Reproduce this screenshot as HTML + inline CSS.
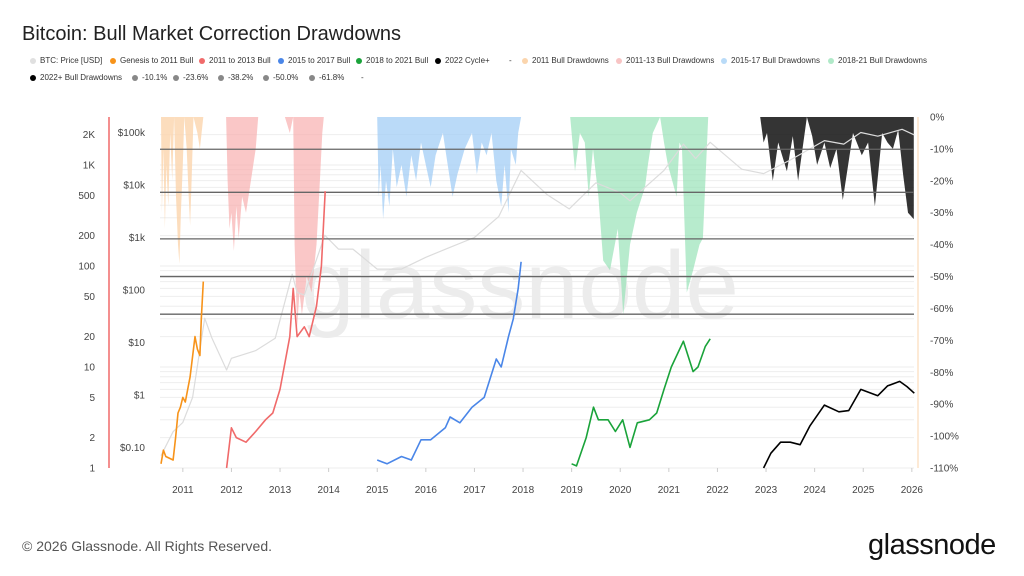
<!DOCTYPE html>
<html><head><meta charset="utf-8"><style>
body{margin:0;background:#fff;font-family:"Liberation Sans",sans-serif;}
#wrap{position:relative;width:1024px;height:576px;overflow:hidden;}
.t{position:absolute;white-space:nowrap;}
.lg{position:absolute;font-size:8px;color:#333;white-space:nowrap;}
.dot{display:inline-block;width:6px;height:6px;border-radius:50%;margin-right:4px;vertical-align:-0.5px;}
</style></head><body><div id="wrap">
<div class="t" style="left:22px;top:23px;font-size:20px;color:#222;">Bitcoin: Bull Market Correction Drawdowns</div>
<div id="legend"></div>
<svg id="svg" width="1024" height="576" style="position:absolute;left:0;top:0"></svg>
<div class="t" style="left:22px;top:538px;font-size:14px;color:#555;">© 2026 Glassnode. All Rights Reserved.</div>
<div class="t" style="left:868px;top:529px;font-size:29px;color:#111;letter-spacing:-0.5px;">glassnode</div>
</div>
<script>
const years=[2011,2012,2013,2014,2015,2016,2017,2018,2019,2020,2021,2022,2023,2024,2025,2026];
const multTicks=[1,2,5,10,20,50,100,200,500,1000,2000];
const multLabels=["1","2","5","10","20","50","100","200","500","1K","2K"];
const priceTicks=[0.1,1,10,100,1000,10000,100000];
const priceLabels=["$0.10","$1","$10","$100","$1k","$10k","$100k"];
const pctTicks=[0,-10,-20,-30,-40,-50,-60,-70,-80,-90,-100,-110];
const levels=[-10.1,-23.6,-38.2,-50.0,-61.8];
const btcT=[2010.55,2010.8,2011.0,2011.2,2011.45,2011.6,2011.9,2012.0,2012.5,2012.9,2013.25,2013.35,2013.5,2013.92,2014.2,2014.5,2015.0,2015.5,2016.0,2016.5,2017.0,2017.5,2017.96,2018.5,2018.95,2019.5,2019.99,2020.2,2020.9,2021.3,2021.55,2021.85,2022.5,2022.95,2023.5,2024.2,2024.6,2024.95,2025.3,2025.8,2026.05];
const btcP=[0.07,0.2,0.3,0.9,29,12,3,5,7,12,200,90,80,1100,600,600,250,250,420,650,1000,2500,19000,6500,3500,11000,7200,5000,19000,60000,32000,65000,20000,16500,30000,70000,60000,100000,85000,115000,90000];
const c1T=[2010.55,2010.6,2010.65,2010.8,2010.85,2010.9,2010.95,2011.0,2011.05,2011.15,2011.25,2011.3,2011.35,2011.38,2011.42];
const c1V=[1.1,1.5,1.3,1.2,2,3.5,4,5,4.5,8,20,15,13,30,70];
const c2T=[2011.9,2012.0,2012.1,2012.3,2012.5,2012.7,2012.85,2013.0,2013.2,2013.27,2013.35,2013.5,2013.6,2013.75,2013.85,2013.93];
const c2V=[1,2.5,2,1.8,2.3,3,3.5,6,20,60,20,25,20,40,100,550];
const c3T=[2015.0,2015.2,2015.5,2015.7,2015.9,2016.1,2016.4,2016.5,2016.7,2016.95,2017.2,2017.45,2017.55,2017.7,2017.8,2017.9,2017.96];
const c3V=[1.2,1.1,1.3,1.2,1.9,1.9,2.5,3.2,2.8,4,5,12,10,20,30,60,110];
const c4T=[2019.0,2019.1,2019.3,2019.45,2019.55,2019.75,2019.9,2020.05,2020.2,2020.35,2020.6,2020.75,2020.9,2021.05,2021.3,2021.5,2021.6,2021.75,2021.85];
const c4V=[1.1,1.05,2,4,3,3,2.3,3,1.6,2.8,3,3.5,6,10,18,9,10,16,19];
const c5T=[2022.95,2023.1,2023.3,2023.5,2023.7,2023.9,2024.2,2024.5,2024.7,2024.95,2025.3,2025.5,2025.75,2025.9,2026.05];
const c5V=[1,1.4,1.8,1.8,1.7,2.6,4.2,3.6,3.7,6,5.2,6.5,7.2,6.4,5.5];
const d1T=[2010.55,2010.57,2010.6,2010.63,2010.66,2010.7,2010.74,2010.78,2010.82,2010.86,2010.9,2010.93,2010.96,2011.0,2011.03,2011.08,2011.12,2011.15,2011.18,2011.22,2011.3,2011.35,2011.42];
const d1V=[0,-30,-10,-35,-15,-28,-5,-20,0,-25,-40,-46,-30,-15,0,-10,-25,-34,-20,0,-5,-10,0];
const d2T=[2011.89,2011.92,2011.96,2012.0,2012.05,2012.1,2012.15,2012.22,2012.3,2012.4,2012.5,2012.55,2013.1,2013.2,2013.27,2013.3,2013.35,2013.4,2013.45,2013.55,2013.65,2013.75,2013.82,2013.87,2013.9];
const d2V=[0,-20,-35,-30,-42,-28,-38,-25,-30,-20,-10,0,0,-5,0,-40,-66,-55,-62,-50,-55,-40,-20,-5,0];
const d3T=[2015.0,2015.03,2015.07,2015.12,2015.18,2015.25,2015.32,2015.4,2015.5,2015.6,2015.7,2015.8,2015.9,2016.0,2016.1,2016.2,2016.35,2016.45,2016.55,2016.65,2016.8,2016.95,2017.05,2017.15,2017.25,2017.35,2017.45,2017.55,2017.62,2017.7,2017.75,2017.85,2017.9,2017.96];
const d3V=[0,-25,-15,-32,-20,-28,-10,-22,-15,-25,-12,-20,-8,-15,-22,-12,-5,-15,-25,-18,-10,-5,-18,-8,-12,-5,-20,-28,-15,-30,-10,-15,-5,0];
const d4T=[2018.97,2019.07,2019.17,2019.27,2019.35,2019.44,2019.55,2019.65,2019.79,2019.95,2020.06,2020.2,2020.34,2020.51,2020.57,2020.67,2020.82,2020.9,2020.98,2021.16,2021.22,2021.27,2021.37,2021.5,2021.63,2021.7,2021.81];
const d4V=[0,-17,-5,-8,-25,-10,-25,-45,-48,-35,-62,-40,-30,-22,-15,-5,0,-8,-15,-25,-8,-10,-55,-48,-40,-38,0];
const d5T=[2022.88,2022.95,2023.02,2023.14,2023.25,2023.43,2023.55,2023.66,2023.84,2023.95,2024.05,2024.2,2024.32,2024.45,2024.58,2024.79,2024.97,2025.1,2025.24,2025.39,2025.5,2025.61,2025.72,2025.82,2025.92,2026.04];
const d5V=[0,-8,-5,-20,-8,-17,-6,-20,0,-6,-15,-8,-16,-10,-26,-5,-12,-8,-28,-5,-8,-10,-4,-18,-30,-32];

const X0=160,X1=914,YT=117,YB=468;
const xs=t=>X0+(t-2010.53)*48.6;
const yM=m=>YB-Math.log10(m)*101;
const yP=p=>395-Math.log10(p)*52.5;
const yD=d=>YT-d*(YB-YT)/110;
const NS="http://www.w3.org/2000/svg",svg=document.getElementById('svg');
function mk(tag,attrs,parent){const e=document.createElementNS(NS,tag);for(const k in attrs)e.setAttribute(k,attrs[k]);(parent||svg).appendChild(e);return e;}
function txt(x,y,s,anchor,size,fill){const e=mk('text',{x:x,y:y,'text-anchor':anchor,'font-size':size,fill:fill,'font-family':'Liberation Sans, sans-serif'});e.textContent=s;return e;}
for(let dec=0;dec<4;dec++)for(let k=1;k<10;k++){const m=Math.pow(10,dec)*k;if(m>2600)continue;const y=yM(m);
const g=mk('line',{x1:X0,x2:X1,y1:y,y2:y,stroke:'#eeeeee','stroke-width':1});

}
const wm=txt(520,318,'glassnode','middle',96,'#ececec');


function area(T,V,color,op,name){let d='M'+xs(T[0])+','+YT;T.forEach((t,i)=>d+=' L'+xs(t).toFixed(1)+','+yD(V[i]).toFixed(1));d+=' L'+xs(T[T.length-1])+','+YT+' Z';
const p=mk('path',{d:d,fill:color,'fill-opacity':op});

}
area(d1T,d1V,'#fbd5ad',0.8,'drawdown-2011');
area(d2T,d2V,'#f8a9a9',0.65,'drawdown-2011-13');
area(d3T,d3V,'#9ccbf5',0.7,'drawdown-2015-17');
area(d4T,d4V,'#98e2b8',0.7,'drawdown-2018-21');
area(d5T,d5V,'#111',0.85,'drawdown-2022');
function line(T,V,yf,color,w,name){const pts=T.map((t,i)=>xs(t).toFixed(1)+','+yf(V[i]).toFixed(1)).join(' ');
const l=mk('polyline',{points:pts,fill:'none',stroke:color,'stroke-width':w,'stroke-linejoin':'round'});

}
line(btcT,btcP,yP,'#dcdcdc',1.2,'btc-price-line');
levels.forEach(v=>{const y=yD(v);const l=mk('line',{x1:X0,x2:X1,y1:y,y2:y,stroke:'#666','stroke-width':1.3});

});
line(c1T,c1V,yM,'#f7931a',1.6,'genesis-2011-line');
line(c2T,c2V,yM,'#f06a6a',1.6,'bull-2011-2013-line');
line(c3T,c3V,yM,'#4a86e8',1.6,'bull-2015-2017-line');
line(c4T,c4V,yM,'#1aa33a',1.6,'bull-2018-2021-line');
line(c5T,c5V,yM,'#000',1.6,'cycle-2022-line');
const la=mk('line',{x1:109,x2:109,y1:YT,y2:YB,stroke:'#f06a6a','stroke-width':1.5});


const ra=mk('line',{x1:918,x2:918,y1:YT,y2:YB,stroke:'#fbd5ad','stroke-width':1});


multTicks.forEach((m,i)=>{const e=txt(95,yM(m)+3.5,multLabels[i],'end',10,'#444');

});
priceTicks.forEach((p,i)=>{const e=txt(145,yP(p)+3.5,priceLabels[i],'end',10,'#444');

});
pctTicks.forEach(v=>{const e=txt(930,yD(v)+3.5,v+'%','start',10,'#444');

});
years.forEach(yr=>{const x=xs(yr);mk('line',{x1:x,x2:x,y1:YB,y2:YB+4,stroke:'#ccc'});
const e=txt(x,493,String(yr),'middle',10,'#444');

});
const L=[["BTC: Price [USD]","#e0e0e0",30,62],["Genesis to 2011 Bull","#f7931a",110,62],["2011 to 2013 Bull","#f06a6a",199,62],["2015 to 2017 Bull","#4a86e8",278,62],["2018 to 2021 Bull","#1aa33a",356,62],["2022 Cycle+","#000",435,62],["-","",509,62],["2011 Bull Drawdowns","#fbd5ad",522,62],["2011-13 Bull Drawdowns","#f8c4c4",616,62],["2015-17 Bull Drawdowns","#b9dbf8",721,62],["2018-21 Bull Drawdowns","#b0e9c8",828,62],["2022+ Bull Drawdowns","#000",30,79],["-10.1%","#888",132,79],["-23.6%","#888",173,79],["-38.2%","#888",218,79],["-50.0%","#888",263,79],["-61.8%","#888",309,79],["-","",361,79]];
const lg=document.getElementById('legend');
L.forEach(a=>{const d=document.createElement('div');d.className='lg';d.style.left=a[2]+'px';d.style.top=(a[3]-6)+'px';
d.innerHTML=(a[1]?'<span class="dot" style="background:'+a[1]+'"></span>':'')+a[0];


lg.appendChild(d);});
</script></body></html>
